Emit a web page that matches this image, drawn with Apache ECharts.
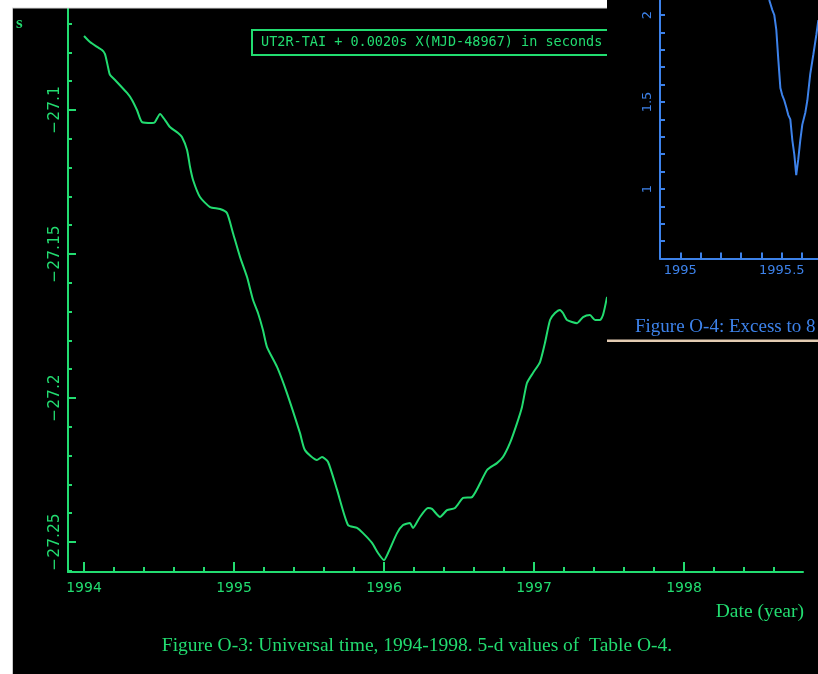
<!DOCTYPE html>
<html><head><meta charset="utf-8">
<script src="https://cdn.jsdelivr.net/npm/echarts@6/dist/echarts.min.js"></script>
<style>
html,body{margin:0;padding:0;background:#fff;}
#wrap{position:relative;width:818px;height:674px;overflow:hidden;}
#main{position:absolute;left:0;top:0;width:818px;height:674px;}
#insetBox{position:absolute;left:607px;top:0;width:211px;height:343px;overflow:hidden;background:#000;}
#inset{position:absolute;left:0;top:-100px;width:450px;height:450px;}
</style></head><body>
<div id="wrap"><div id="main"></div><div id="insetBox"><div id="inset"></div></div></div>
<script>
// ---- Main chart data (Figure O-3) ----
var utYears = [1994.00,1994.04,1994.087,1994.12,1994.14,1994.16,1994.173,1994.207,1994.287,1994.32,1994.353,1994.387,1994.453,1994.473,1994.507,1994.54,1994.573,1994.627,1994.653,1994.687,1994.707,1994.727,1994.773,1994.84,1994.907,1994.953,1994.993,1995.04,1995.087,1995.127,1995.16,1995.193,1995.22,1995.287,1995.353,1995.44,1995.473,1995.553,1995.587,1995.627,1995.687,1995.76,1995.82,1995.86,1995.92,1995.96,1996.0,1996.027,1996.087,1996.127,1996.173,1996.193,1996.24,1996.293,1996.32,1996.373,1996.42,1996.473,1996.527,1996.587,1996.687,1996.753,1996.793,1996.84,1996.887,1996.92,1996.953,1996.993,1997.04,1997.073,1997.107,1997.14,1997.173,1997.193,1997.22,1997.287,1997.327,1997.373,1997.407,1997.44,1997.46,1997.487];
var utValues = [-27.0743,-27.0764,-27.0781,-27.0792,-27.0806,-27.0851,-27.0878,-27.0896,-27.0941,-27.0965,-27.1000,-27.1042,-27.1045,-27.1042,-27.1014,-27.1035,-27.1059,-27.1080,-27.1094,-27.1139,-27.1198,-27.1243,-27.1302,-27.1337,-27.1344,-27.1358,-27.1427,-27.1510,-27.1580,-27.1660,-27.1705,-27.1764,-27.1823,-27.1892,-27.1983,-27.2122,-27.2181,-27.2215,-27.2205,-27.2222,-27.2319,-27.2441,-27.2451,-27.2469,-27.2503,-27.2538,-27.2563,-27.2538,-27.2469,-27.2441,-27.2434,-27.2451,-27.2413,-27.2382,-27.2385,-27.2413,-27.2389,-27.2382,-27.2347,-27.2344,-27.2250,-27.2226,-27.2205,-27.2156,-27.2087,-27.2031,-27.1948,-27.1913,-27.1875,-27.1809,-27.1729,-27.1705,-27.1694,-27.1705,-27.1729,-27.1740,-27.1719,-27.1712,-27.1729,-27.1729,-27.1712,-27.1649];
var xTickLabels = [1994,1995,1996,1997,1998];
var xMinorTicks = [1994,1994.2,1994.4,1994.6,1994.8,1995,1995.2,1995.4,1995.6,1995.8,1996,1996.2,1996.4,1996.6,1996.8,1997,1997.2,1997.4,1997.6,1997.8,1998,1998.2,1998.4,1998.6,1998.8];
var yTickLabels = [-27.25,-27.2,-27.15,-27.1];
var yMinorTicks = [-27.26,-27.25,-27.24,-27.23,-27.22,-27.21,-27.2,-27.19,-27.18,-27.17,-27.16,-27.15,-27.14,-27.13,-27.12,-27.11,-27.1,-27.09,-27.08,-27.07];
var legendText = 'UT2R-TAI + 0.0020s X(MJD-48967) in seconds';
var captionText = 'Figure O-3: Universal time, 1994-1998. 5-d values of  Table O-4.';
var xAxisName = 'Date (year)';
var yAxisUnit = 's';

// ---- Inset data (Figure O-4) ----
var exYears = [1995.438,1995.453,1995.463,1995.473,1995.483,1995.493,1995.502,1995.512,1995.522,1995.532,1995.542,1995.552,1995.562,1995.571,1995.581,1995.591,1995.601,1995.616,1995.626,1995.640,1995.655,1995.670,1995.680];
var exValues = [2.086,2.03,2.0,1.914,1.741,1.58,1.54,1.51,1.47,1.425,1.40,1.28,1.195,1.08,1.17,1.28,1.37,1.44,1.51,1.66,1.77,1.885,1.97];
var insetXLabels = [1995,1995.5,1996,1996.5];
var insetXTicks = [1995,1995.1,1995.2,1995.3,1995.4,1995.5,1995.6,1995.7,1995.8,1995.9,1996,1996.1,1996.2,1996.3,1996.4,1996.5,1996.6,1996.7];
var insetYLabels = [1,1.5,2,2.5];
var insetYTicks = [0.7,0.8,0.9,1,1.1,1.2,1.3,1.4,1.5,1.6,1.7,1.8,1.9,2,2.1,2.2,2.3,2.4,2.5];
var insetCaption = 'Figure O-4: Excess to 8';

var GREEN = '#22dc70';
var BLUE = '#3d82ea';

function pairs(xs, ys){ var out=[]; for(var i=0;i<xs.length;i++) out.push([xs[i], ys[i]]); return out; }

var main = echarts.init(document.getElementById('main'), null, {renderer:'canvas'});
main.setOption({
  backgroundColor: '#000',
  animation: false,
  grid: {left: 68, right: 15, top: 8, bottom: 102},
  xAxis: [{
    type: 'value', min: 1993.8933, max: 1998.7933,
    axisLine: {show: true, lineStyle: {color: GREEN, width: 2}},
    axisTick: {show: true, inside: true, length: 10, customValues: xTickLabels, lineStyle: {color: GREEN, width: 2}},
    axisLabel: {show: true, customValues: xTickLabels, color: GREEN, fontFamily: 'DejaVu Sans', fontSize: 14, margin: 9, formatter: function(v){return String(v);}},
    splitLine: {show: false}
  },{
    type: 'value', min: 1993.8933, max: 1998.7933, position: 'bottom',
    axisLine: {show: false},
    axisTick: {show: true, inside: true, length: 5, customValues: xMinorTicks, lineStyle: {color: GREEN, width: 2}},
    axisLabel: {show: false},
    splitLine: {show: false}
  }],
  yAxis: [{
    type: 'value', min: -27.2604, max: -27.0646,
    axisLine: {show: true, lineStyle: {color: GREEN, width: 2}},
    axisTick: {show: true, inside: true, length: 8, customValues: yTickLabels, lineStyle: {color: GREEN, width: 2}},
    axisLabel: {show: true, customValues: yTickLabels, rotate: 90, color: GREEN, fontFamily: 'DejaVu Sans', fontSize: 15.5, margin: 5,
      formatter: function(v){return String(v).replace('-', '\u2212');}},
    splitLine: {show: false}
  },{
    type: 'value', min: -27.2604, max: -27.0646, position: 'left',
    axisLine: {show: false},
    axisTick: {show: true, inside: true, length: 4, customValues: yMinorTicks, lineStyle: {color: GREEN, width: 2}},
    axisLabel: {show: false},
    splitLine: {show: false}
  }],
  series: [{
    type: 'line', xAxisIndex: 0, yAxisIndex: 0,
    data: pairs(utYears, utValues),
    showSymbol: false, smooth: 0.2,
    lineStyle: {color: GREEN, width: 2}
  }],
  graphic: [
    {type: 'rect', z: 100, shape: {x: 252, y: 30, width: 380, height: 25}, style: {fill: 'none', stroke: GREEN, lineWidth: 2}},
    {type: 'text', z: 100, x: 261, y: 42, style: {text: legendText, fill: GREEN, font: '13.5px "DejaVu Sans Mono"', verticalAlign: 'middle'}},
    {type: 'text', z: 100, x: 16, y: 24, style: {text: yAxisUnit, fill: GREEN, font: 'bold 17px "Liberation Serif"', verticalAlign: 'middle'}},
    {type: 'text', z: 100, x: 804, y: 612, style: {text: xAxisName, fill: GREEN, font: '19.5px "Liberation Serif"', align: 'right', verticalAlign: 'middle'}},
    {type: 'text', z: 100, x: 417, y: 646, style: {text: captionText, fill: GREEN, font: '19.5px "Liberation Serif"', align: 'center', verticalAlign: 'middle'}},
    {type: 'rect', z: 200, shape: {x: 0, y: 0, width: 13, height: 674}, style: {fill: '#fff'}},
    {type: 'rect', z: 200, shape: {x: 0, y: 0, width: 818, height: 8}, style: {fill: '#fff'}},
    {type: 'line', z: 201, shape: {x1: 12.5, y1: 8, x2: 12.5, y2: 674}, style: {stroke: '#c8c8c8', lineWidth: 1}},
    {type: 'line', z: 201, shape: {x1: 12, y1: 8, x2: 818, y2: 8}, style: {stroke: '#d8d8d8', lineWidth: 1}}
  ]
});

var inset = echarts.init(document.getElementById('inset'), null, {renderer:'canvas'});
inset.setOption({
  backgroundColor: '#000',
  animation: false,
  grid: {left: 53, right: 11.3, top: 10.6, bottom: 91.4},
  xAxis: {
    type: 'value', min: 1994.9, max: 1996.8,
    axisLine: {show: true, lineStyle: {color: BLUE, width: 2}},
    axisTick: {show: true, inside: true, length: 6, customValues: insetXTicks, lineStyle: {color: BLUE, width: 2}},
    axisLabel: {show: true, customValues: insetXLabels, color: BLUE, fontFamily: 'DejaVu Sans', fontSize: 13, margin: 6, formatter: function(v){return String(v);}},
    splitLine: {show: false}
  },
  yAxis: {
    type: 'value', min: 0.6, max: 2.6,
    axisLine: {show: true, lineStyle: {color: BLUE, width: 2}},
    axisTick: {show: true, inside: true, length: 5, customValues: insetYTicks, lineStyle: {color: BLUE, width: 2}},
    axisLabel: {show: true, customValues: insetYLabels, rotate: 90, color: BLUE, fontFamily: 'DejaVu Sans', fontSize: 13, margin: 6, formatter: function(v){return String(v);}},
    splitLine: {show: false}
  },
  series: [{
    type: 'line', data: pairs(exYears, exValues), showSymbol: false,
    lineStyle: {color: BLUE, width: 2}
  }],
  graphic: [
    {type: 'text', x: 28, y: 427, style: {text: insetCaption, fill: BLUE, font: '19px "Liberation Serif"', verticalAlign: 'middle'}},
    {type: 'rect', shape: {x: 0, y: 439.5, width: 450, height: 2.5}, style: {fill: '#e3cbb2'}}
  ]
});
</script>
</body></html>
